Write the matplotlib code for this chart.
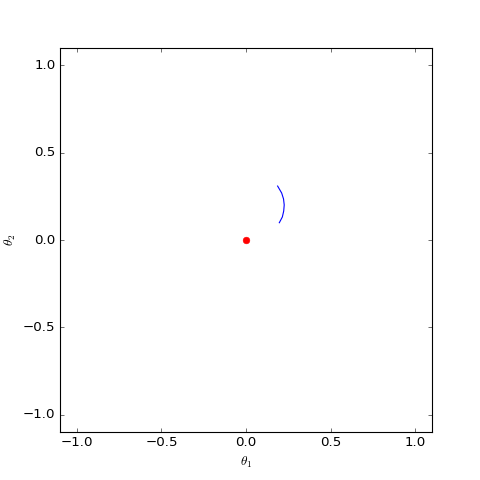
import matplotlib
matplotlib.use("Agg")
import matplotlib.pyplot as plt

plt.style.use("classic")

curve_x = [0.187, 0.211, 0.222, 0.226, 0.223, 0.215, 0.197]
curve_y = [0.309, 0.269, 0.235, 0.201, 0.166, 0.132, 0.099]
point_x = [0.0]
point_y = [0.0]
ticks = [-1.0, -0.5, 0.0, 0.5, 1.0]

fig = plt.figure(figsize=(6, 6), dpi=80)
ax = fig.add_subplot(111)
ax.plot(curve_x, curve_y, color="b", linewidth=1)
ax.plot(point_x, point_y, "ro", markeredgecolor="r", markersize=6)
ax.set_xlim(-1.1, 1.1)
ax.set_ylim(-1.1, 1.1)
ax.set_xticks(ticks)
ax.set_yticks(ticks)
ax.set_xlabel(r"$\theta_1$")
ax.set_ylabel(r"$\theta_2$")
fig.savefig("out.png", dpi=80)
